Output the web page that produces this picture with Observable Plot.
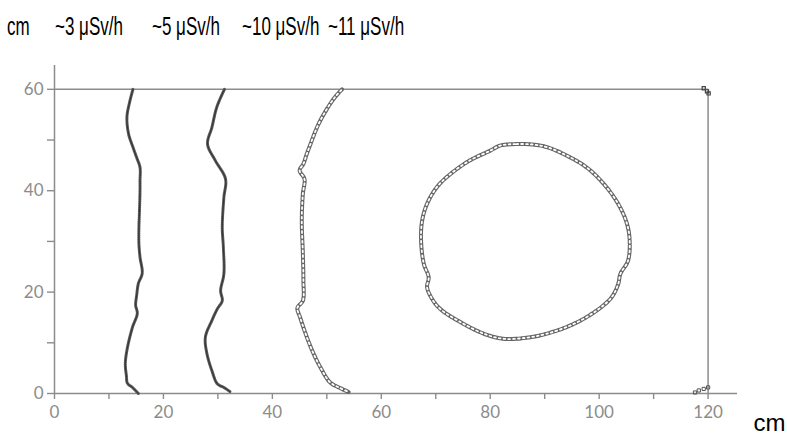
<!DOCTYPE html>
<html>
<head>
<meta charset="utf-8">
<script src="https://cdn.jsdelivr.net/npm/d3@7"></script>
<script src="https://cdn.jsdelivr.net/npm/@observablehq/plot@0.6"></script>
<style>
  body { margin: 0; background: #fff; width: 787px; height: 436px; overflow: hidden; font-family: "Liberation Sans", Arial, sans-serif; }
  #title { position: relative; height: 50px; }
  #title span { position: absolute; white-space: nowrap; color: #000; transform-origin: left top; top: 14px; font-size: 25px; line-height: 24px; transform: scaleX(0.68); }
  #chart svg { display: block; overflow: visible; }
</style>
</head>
<body>
<div id="title"></div>
<div id="chart"></div>
<script>
// ---- data (cm) ----
const legendLabels = ["cm", "~3 μSv/h", "~5 μSv/h", "~10 μSv/h", "~11 μSv/h"];
const axisUnit = ["cm"];
const xTicks = [0, 10, 20, 30, 40, 50, 60, 70, 80, 90, 100, 110, 120];
const xTickLabels = [0, 20, 40, 60, 80, 100, 120];
const yTicks = [0, 10, 20, 30, 40, 50, 60];
const yTickLabels = [0, 20, 40, 60];
const boxX = [0, 120];
const boxY = [0, 60];

const iso3 = [[14.4,60],[13.8,57.5],[13.3,54.5],[13.6,51.2],[14.4,48.6],[15.1,46.5],[15.7,44.6],[15.7,42],[15.7,40],[15.6,36],[15.5,32.8],[15.5,29.5],[15.7,26.9],[16.1,23.7],[15.4,21.7],[15.1,19.5],[14.9,17.4],[15.2,15.8],[14.3,13],[13.4,9.1],[13.0,5.9],[13.2,3.5],[13.4,2],[14.3,1.2],[15.4,0]];
const iso5 = [[31.2,60],[29.8,56.5],[28.9,52.5],[28.1,49.2],[29.5,46],[31.4,42.3],[31.1,38.7],[30.8,32.8],[31.0,28.9],[31.1,23.6],[30.5,20.3],[30.8,18.3],[29.9,16.7],[28.9,14.4],[27.7,11.1],[28.0,7.8],[28.9,4.5],[29.9,1.9],[31.1,1.2],[32.3,0.3]];
const iso10 = [[52.8,60],[51.6,58.6],[50.6,57.1],[49.5,55.2],[48.5,53.2],[47.7,51.2],[47.0,49.2],[46.3,47.2],[45.7,45.3],[45.0,44.0],[45.9,42.3],[45.6,39.4],[45.4,34.1],[45.6,27.6],[45.7,22.3],[45.6,18.3],[44.6,16.9],[45.1,15.0],[46.1,11.8],[47.3,8.5],[48.8,5.2],[50.6,2.2],[52.2,1.2],[54.0,0.3]];
const iso11 = [[81.8,48.9],[84.6,49.2],[87.9,49.1],[90.4,48.6],[94.1,46.9],[97.7,44.6],[100.8,41.4],[103.5,37.4],[105.1,33.5],[105.6,30.2],[105.3,26.2],[103.9,23.6],[103.5,21.6],[102.3,19.0],[99.6,16.4],[95.3,13.7],[90.4,11.8],[86.7,11.0],[82.4,10.8],[78.8,11.8],[74.5,14.1],[70.8,16.7],[69.3,18.7],[68.4,21.0],[68.7,22.9],[67.8,25.6],[67.3,30.2],[67.5,34.1],[68.4,37.4],[70.2,40.7],[72.7,43.3],[76.3,46.0],[80.0,47.9]];
const cornerTop = [[119.2,60.2],[119.8,59.6],[120.1,59.2]];
const cornerBottom = [[117.6,0.2],[118.3,0.6],[119.2,0.9],[120.0,1.2]];

// ---- title ----
const titleLeft = [7, 55, 152, 242, 328];
const title = document.getElementById("title");
legendLabels.forEach((t, i) => {
  const s = document.createElement("span");
  s.textContent = t;
  s.style.left = titleLeft[i] + "px";
  title.appendChild(s);
});

// ---- chart ----
const axisColor = "#8c8c8c";
const dark = (data) => [
  Plot.line(data, {x: d => d[0], y: d => d[1], curve: "catmull-rom", stroke: "#5a5a5a", strokeWidth: 3, strokeDasharray: "1.2,0.8"}),
  Plot.line(data, {x: d => d[0], y: d => d[1], curve: "catmull-rom", stroke: "#2a2a2a", strokeWidth: 0.8})
];
const squares = (data, curve) => [
  Plot.line(data, {x: d => d[0], y: d => d[1], curve, stroke: "#666", strokeWidth: 4, strokeDasharray: "4,0.8"}),
  Plot.line(data, {x: d => d[0], y: d => d[1], curve, stroke: "#ffffff", strokeWidth: 1.8, strokeDasharray: "1.8,3", strokeDashoffset: -1.1})
];

const chart = Plot.plot({
  width: 787,
  height: 386,
  marginLeft: 54,
  marginRight: 50,
  marginTop: 15,
  marginBottom: 43,
  x: {domain: [0, 125.4]},
  y: {domain: [0, 64.7]},
  style: {fontFamily: "Lato, 'Open Sans', sans-serif", fontSize: "17px", color: axisColor, background: "#fff", overflow: "visible"},
  marks: [
    Plot.axisX({ticks: xTicks, tickFormat: d => xTickLabels.includes(d) ? String(d) : "", tickSize: 6, tickPadding: 6, label: null, strokeWidth: 1.4}),
    Plot.axisY({ticks: yTicks, tickFormat: d => yTickLabels.includes(d) ? String(d) : "", tickSize: 7, tickPadding: 4, label: null, strokeWidth: 1.4}),
    Plot.ruleX([boxX[0]], {stroke: axisColor, strokeWidth: 1.5}),
    Plot.ruleY([boxY[0]], {stroke: axisColor, strokeWidth: 1.5}),
    Plot.ruleY([boxY[1]], {x1: boxX[0], x2: boxX[1], stroke: axisColor, strokeWidth: 1.5}),
    Plot.ruleX([boxX[1]], {y1: boxY[0], y2: boxY[1], stroke: axisColor, strokeWidth: 1.5}),
    ...dark(iso3),
    ...dark(iso5),
    ...squares(iso10, "catmull-rom"),
    ...squares(iso11, "catmull-rom-closed"),
    Plot.dot(cornerTop, {x: d => d[0], y: d => d[1], symbol: "square", r: 1.8, stroke: "#444", strokeWidth: 1.2}),
    Plot.dot(cornerBottom, {x: d => d[0], y: d => d[1], symbol: "square", r: 1.8, stroke: "#555", strokeWidth: 1}),
    Plot.text(axisUnit, {frameAnchor: "bottom-right", dx: 48, dy: 37, textAnchor: "end", fontSize: 24, fill: "#000", fontFamily: "'Liberation Sans', Arial, sans-serif"})
  ]
});
document.getElementById("chart").appendChild(chart);
</script>
</body>
</html>
